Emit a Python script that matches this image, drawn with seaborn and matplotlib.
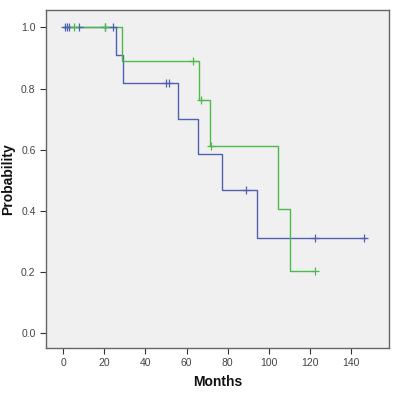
import seaborn as sns
import pandas as pd
import matplotlib.pyplot as plt

# Kaplan-Meier curves (months, survival probability)
blue_time = [0, 25.9, 29.0, 55.8, 65.4, 77.4, 94.2, 147.0]
blue_surv = [1.0, 0.909, 0.818, 0.701, 0.584, 0.467, 0.311, 0.311]
blue_cens_time = [0.8, 1.8, 2.8, 7.8, 20.2, 24.3, 50.0, 51.6, 88.7, 122.3, 146.3]
blue_cens_surv = [1.0, 1.0, 1.0, 1.0, 1.0, 1.0, 0.818, 0.818, 0.467, 0.311, 0.311]

green_time = [0, 28.6, 66.2, 71.5, 104.2, 110.4, 122.3]
green_surv = [1.0, 0.889, 0.762, 0.610, 0.406, 0.203, 0.203]
green_cens_time = [5.2, 20.4, 63.3, 67.0, 72.0, 122.3]
green_cens_surv = [1.0, 1.0, 0.889, 0.762, 0.610, 0.203]

y_ticks = [0.0, 0.2, 0.4, 0.6, 0.8, 1.0]
x_ticks = [0, 20, 40, 60, 80, 100, 120, 140]

blue = '#4f61b0'
green = '#4cbb4c'

sns.set_style('ticks')
plt.rcParams['font.family'] = ['Liberation Sans', 'DejaVu Sans']

fig = plt.figure(figsize=(3.96, 4.04), dpi=100)
ax = fig.add_axes([0.116, 0.139, 0.866, 0.836])
ax.set_facecolor('#f0f0f0')

sns.lineplot(x=blue_time, y=blue_surv, ax=ax, color=blue, drawstyle='steps-post',
             estimator=None, linewidth=1.0)
sns.lineplot(x=green_time, y=green_surv, ax=ax, color=green, drawstyle='steps-post',
             estimator=None, linewidth=1.0)
sns.scatterplot(x=blue_cens_time, y=blue_cens_surv, ax=ax, color=blue, marker='+',
                s=30, linewidth=0.9, zorder=3)
sns.scatterplot(x=green_cens_time, y=green_cens_surv, ax=ax, color=green, marker='+',
                s=30, linewidth=0.9, zorder=3)

ax.set_xlim(-8.3, 158.2)
ax.set_ylim(-0.05, 1.057)
ax.set_xticks(x_ticks)
ax.set_yticks(y_ticks)
ax.set_yticklabels([f'{v:.1f}' for v in y_ticks])
ax.tick_params(axis='both', labelsize=7.5, colors='#333333', length=4, width=0.8,
               labelcolor='#444444', direction='out')

for side in ['top', 'right', 'left', 'bottom']:
    ax.spines[side].set_visible(True)
    ax.spines[side].set_color('#666666')
    ax.spines[side].set_linewidth(1.0)

ax.set_xlabel('Months', fontsize=10, fontweight='bold', labelpad=5, color='#111111')
ax.set_ylabel('Probability', fontsize=10, fontweight='bold', labelpad=4, color='#111111')

plt.savefig('out.png', dpi=100)
